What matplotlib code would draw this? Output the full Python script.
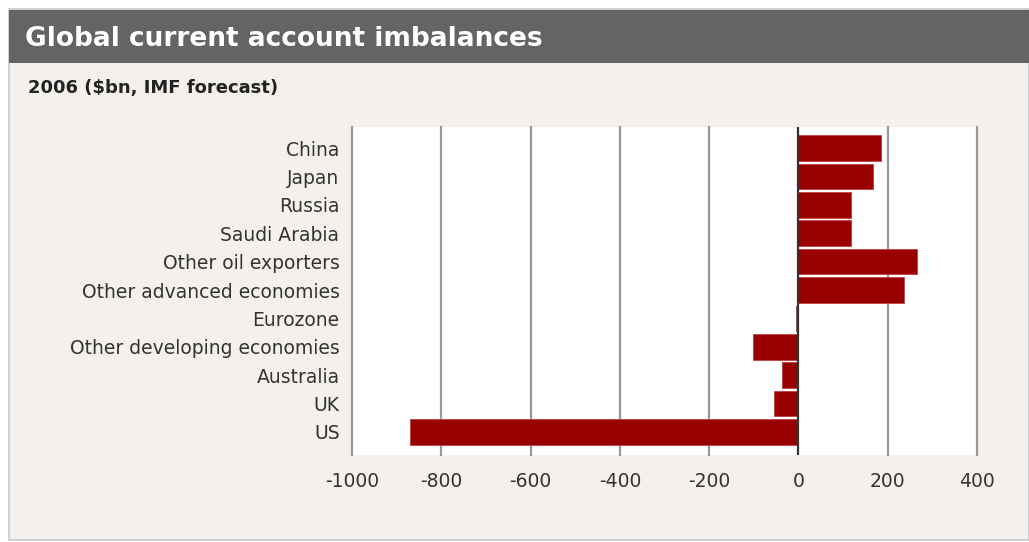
import matplotlib
matplotlib.use("Agg")
import matplotlib.pyplot as plt
from matplotlib.patches import Rectangle

# 2006 current account balance, $bn (IMF forecast)
countries = ["China", "Japan", "Russia", "Saudi Arabia", "Other oil exporters",
             "Other advanced economies", "Eurozone", "Other developing economies",
             "Australia", "UK", "US"]
balance = [184, 166, 118, 118, 265, 236, -6, -101, -37, -55, -869]
xticks = [-1000, -800, -600, -400, -200, 0, 200, 400]

W, H = 1029, 542
fig = plt.figure(figsize=(W / 100, H / 100), dpi=100, facecolor="white")

# beige panel and dark header band, drawn on a background axes
bg = fig.add_axes([0, 0, 1, 1], zorder=0)
bg.set_xlim(0, W)
bg.set_ylim(H, 0)
bg.axis("off")
bg.add_patch(Rectangle((9, 9), W - 9, H - 11, facecolor="#f4f1ec",
                       edgecolor="#c8c8c8", lw=1.2))
bg.add_patch(Rectangle((9, 10), W - 9, 53, facecolor="#646464", edgecolor="none"))
bg.text(25, 39, "Global current account imbalances", color="white",
        fontsize=19, fontweight="bold", va="center", ha="left")
bg.text(28, 88, "2006 ($bn, IMF forecast)", color="#222222",
        fontsize=13, fontweight="bold", va="center", ha="left")

ax = fig.add_axes([352 / W, 1 - 455 / H, 625 / W, 328 / H], zorder=2)
ax.set_facecolor("white")
ypos = list(range(len(countries)))
ax.barh(ypos, balance, height=0.9, color="#990000", edgecolor="#c04040",
        lw=0.6, zorder=3)
ax.set_xlim(-1000, 400)
ax.set_ylim(10.81, -0.74)

for x in xticks:
    if x == 0:
        ax.axvline(x, color="#333333", lw=1.6, zorder=4)
    else:
        ax.axvline(x, color="#999999", lw=1.6, zorder=1, clip_on=False)

ax.set_xticks(xticks, [str(v) for v in xticks])
ax.set_yticks(ypos, countries)
ax.tick_params(axis="both", length=0, labelsize=13.5, colors="#333333")
ax.tick_params(axis="x", pad=12)
ax.tick_params(axis="y", pad=9)
for s in ax.spines.values():
    s.set_visible(False)

fig.savefig("out.png", dpi=100, facecolor=fig.get_facecolor())
